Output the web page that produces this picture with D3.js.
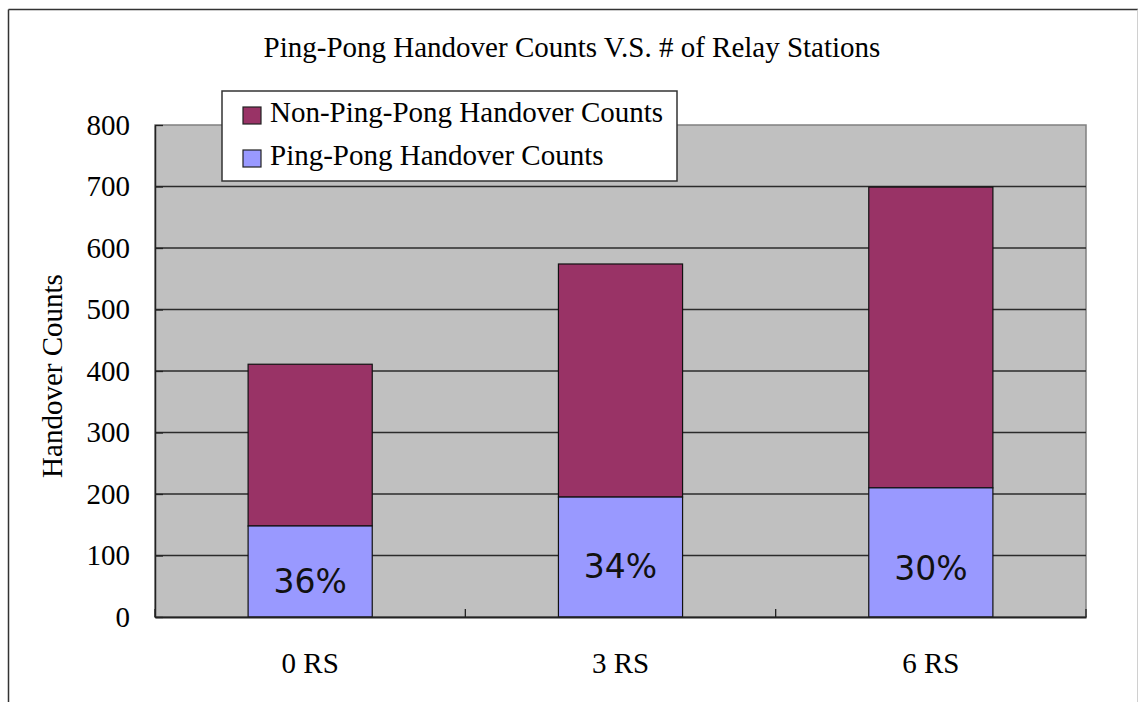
<!DOCTYPE html>
<html>
<head>
<meta charset="utf-8">
<script src="https://cdn.jsdelivr.net/npm/d3@7"></script>
<style>
  html, body { margin: 0; padding: 0; background: #ffffff; }
  svg { display: block; }
</style>
</head>
<body>
<script>
// ---- data ----
const categories = ["0 RS", "3 RS", "6 RS"];
const pingPong = [148, 195, 210];
const nonPingPong = [263, 379, 489];
const pctLabels = ["36%", "34%", "30%"];
const pctLabelAt = [39, 63, 60];
const yTicks = [0, 100, 200, 300, 400, 500, 600, 700, 800];
const seriesNames = ["Non-Ping-Pong Handover Counts", "Ping-Pong Handover Counts"];
const titleText = "Ping-Pong Handover Counts V.S. # of Relay Stations";
const yTitle = "Handover Counts";

// ---- layout ----
const W = 1139, H = 702;
const plot = { left: 155, right: 1086, top: 125, bottom: 617 };
const colors = { non: "#993366", ping: "#9999FF", bg: "#C0C0C0", grid: "#2b2b2b" };
const serif = "'Liberation Serif', 'Times New Roman', serif";

const svg = d3.select("body").append("svg").attr("width", W).attr("height", H);

// outer frame
svg.append("line").attr("x1", 8.5).attr("x2", 8.5).attr("y1", 9.5).attr("y2", H + 5)
  .attr("stroke", "#333").attr("stroke-width", 1.5);
svg.append("line").attr("x1", 8.5).attr("x2", 1138).attr("y1", 9.5).attr("y2", 9.5)
  .attr("stroke", "#333").attr("stroke-width", 1.5);
svg.append("line").attr("x1", 1137.5).attr("x2", 1137.5).attr("y1", 9.5).attr("y2", H + 5)
  .attr("stroke", "#d0d0d0").attr("stroke-width", 1);

const x = d3.scaleBand().domain(categories).range([plot.left, plot.right]).padding(0);
const y = d3.scaleLinear().domain([0, 800]).range([plot.bottom, plot.top]);
const barFrac = 0.4;

// plot background
svg.append("rect").attr("x", plot.left).attr("y", plot.top)
  .attr("width", plot.right - plot.left).attr("height", plot.bottom - plot.top)
  .attr("fill", colors.bg).attr("stroke", "#808080").attr("stroke-width", 1.5);

// gridlines
svg.append("g").selectAll("line").data(yTicks.filter(d => d > 0 && d < 800)).join("line")
  .attr("x1", plot.left).attr("x2", plot.right)
  .attr("y1", d => y(d)).attr("y2", d => y(d))
  .attr("stroke", colors.grid).attr("stroke-width", 1.3);

// bars
const rows = categories.map((c, i) => ({ c, ping: pingPong[i], non: nonPingPong[i], i }));
const bw = x.bandwidth() * barFrac;
const bx = d => x(d.c) + (x.bandwidth() - bw) / 2;

svg.append("g").selectAll("rect").data(rows).join("rect")
  .attr("x", bx).attr("width", bw)
  .attr("y", d => y(d.ping + d.non)).attr("height", d => y(d.ping) - y(d.ping + d.non))
  .attr("fill", colors.non).attr("stroke", "#111").attr("stroke-width", 1.2);
svg.append("g").selectAll("rect").data(rows).join("rect")
  .attr("x", bx).attr("width", bw)
  .attr("y", d => y(d.ping)).attr("height", d => y(0) - y(d.ping))
  .attr("fill", colors.ping).attr("stroke", "#111").attr("stroke-width", 1.2);

// percent labels
svg.append("g").selectAll("text").data(rows).join("text")
  .attr("x", d => x(d.c) + x.bandwidth() / 2)
  .attr("y", d => y(pctLabelAt[d.i]))
  .attr("text-anchor", "middle")
  .attr("font-family", "'DejaVu Sans', Verdana, sans-serif")
  .attr("font-size", 33).attr("fill", "#111")
  .text(d => pctLabels[d.i]);

// y axis
const yAxis = svg.append("g").attr("transform", `translate(${plot.left},0)`)
  .call(d3.axisLeft(y).tickValues(yTicks).tickSizeInner(-8).tickSizeOuter(0).tickPadding(25));
yAxis.select(".domain").attr("stroke", "#222").attr("stroke-width", 1.5);
yAxis.selectAll(".tick line").attr("stroke", "#222").attr("stroke-width", 1.3);
yAxis.selectAll("text").attr("font-family", serif).attr("font-size", 29).attr("fill", "#000");

// x axis
const xAxis = svg.append("g").attr("transform", `translate(0,${plot.bottom})`)
  .call(d3.axisBottom(x).tickSize(0).tickPadding(35));
xAxis.select(".domain").attr("stroke", "#222").attr("stroke-width", 1.8);
xAxis.selectAll("text").attr("font-family", serif).attr("font-size", 29).attr("fill", "#000");
const bounds = categories.map(c => x(c)).concat([x(categories[categories.length - 1]) + x.bandwidth()]);
svg.append("g").selectAll("line").data(bounds).join("line")
  .attr("x1", d => d).attr("x2", d => d)
  .attr("y1", plot.bottom).attr("y2", plot.bottom - 8)
  .attr("stroke", "#222").attr("stroke-width", 1.3);

// title
svg.append("text").attr("x", 572).attr("y", 57).attr("text-anchor", "middle")
  .attr("font-family", serif).attr("font-size", 29).attr("fill", "#000").text(titleText);

// y title
svg.append("text").attr("transform", "translate(62,376) rotate(-90)")
  .attr("text-anchor", "middle")
  .attr("font-family", serif).attr("font-size", 29).attr("fill", "#000").text(yTitle);

// legend
const lg = svg.append("g");
lg.append("rect").attr("x", 222).attr("y", 91).attr("width", 455).attr("height", 90)
  .attr("fill", "#fff").attr("stroke", "#333").attr("stroke-width", 1.5);
const legendColors = [colors.non, colors.ping];
const items = lg.selectAll("g.item").data(seriesNames).join("g").attr("class", "item")
  .attr("transform", (d, i) => `translate(243,${107 + i * 43})`);
items.append("rect").attr("width", 18).attr("height", 17)
  .attr("fill", (d, i) => legendColors[i]).attr("stroke", "#222").attr("stroke-width", 1.2);
items.append("text").attr("x", 27).attr("y", 15)
  .attr("font-family", serif).attr("font-size", 29).attr("fill", "#000").text(d => d);
</script>
</body>
</html>
